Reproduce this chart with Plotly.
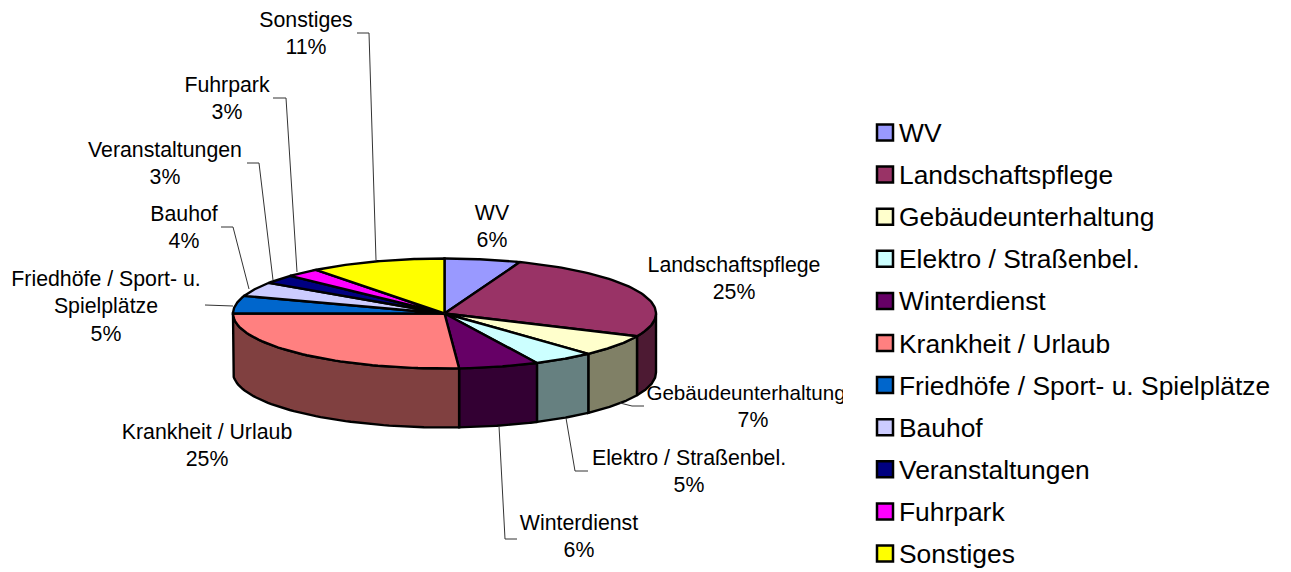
import numpy as np
import plotly.graph_objects as go

categories = ["WV", "Landschaftspflege", "Gebäudeunterhaltung", "Elektro / Straßenbel.", "Winterdienst",
              "Krankheit / Urlaub", "Friedhöfe / Sport- u. Spielplätze", "Bauhof", "Veranstaltungen",
              "Fuhrpark", "Sonstiges"]
values = [5.8, 26.0, 6.3, 4.7, 6.1, 26.1, 5.2, 4.2, 2.6, 2.6, 10.4]
percent_labels = ["6%", "25%", "7%", "5%", "6%", "25%", "5%", "4%", "3%", "3%", "11%"]
top_colors = ["#9999FF", "#993366", "#FFFFCC", "#CCFFFF", "#660066", "#FF8080",
              "#0066CC", "#CCCCFF", "#000080", "#FF00FF", "#FFFF00"]
side_colors = ["#4D4D80", "#4D1A33", "#808066", "#668080", "#330033", "#804040",
               "#003366", "#666680", "#000040", "#800080", "#808000"]

# label text lines: (x, y, text)
label_lines = [[(492, 212, "WV")], [(734, 264, "Landschaftspflege")], [(746, 392, "Gebäudeunterhaltung")],
               [(689, 457, "Elektro / Straßenbel.")], [(579, 522, "Winterdienst")],
               [(207, 431, "Krankheit / Urlaub")],
               [(106, 278, "Friedhöfe / Sport- u."), (106, 305, "Spielplätze")],
               [(184, 213, "Bauhof")], [(165, 149, "Veranstaltungen")], [(227, 84, "Fuhrpark")],
               [(306, 19, "Sonstiges")]]
pct_pos = [(492, 239), (734, 291), (753, 419), (689, 484), (579, 549), (207, 458), (106, 333),
           (184, 240), (165, 176), (227, 111), (306, 46)]
leaders = [[(357, 33), (369, 33), (376, 260)], [(273, 98), (286, 98), (297, 272)],
           [(247, 163), (259, 163), (273, 280)], [(221, 227), (233, 227), (249, 289)],
           [(205, 305), (233, 306)], [(620, 403), (632, 406), (644, 406)],
           [(588, 471), (575, 471), (566, 418)], [(499, 426), (505, 539), (517, 539)]]

CX, CY, RX, RY, DEPTH = 444.5, 313.5, 211.5, 55, 59
FONT = "Liberation Sans, Arial, sans-serif"
TEXT_DY = 3


def rim(a, b, n=60, dy=0.0):
    t = np.radians(np.linspace(a, b, n))
    return CX + RX * np.sin(t), CY - RY * np.cos(t) + dy


fig = go.Figure()
edges = np.concatenate([[0], np.cumsum(values)]) / sum(values) * 360

for i, cat in enumerate(categories):
    a, b = max(edges[i], 90), min(edges[i + 1], 270)
    if a < b:
        x1, y1 = rim(a, b)
        x2, y2 = rim(b, a, dy=DEPTH)
        fig.add_trace(go.Scatter(x=np.r_[x1, x2, x1[0]], y=np.r_[y1, y2, y1[0]], mode="lines", fill="toself",
                                 fillcolor=side_colors[i], line=dict(color="black", width=2.4),
                                 name=cat, hoverinfo="name", showlegend=False))

for i, cat in enumerate(categories):
    x1, y1 = rim(edges[i], edges[i + 1])
    fig.add_trace(go.Scatter(x=np.r_[CX, x1, CX], y=np.r_[CY, y1, CY], mode="lines", fill="toself",
                             fillcolor=top_colors[i], line=dict(color="black", width=2.4),
                             name=cat, hoverinfo="name", showlegend=False))

for pts in leaders:
    fig.add_trace(go.Scatter(x=[p[0] for p in pts], y=[p[1] for p in pts], mode="lines",
                             line=dict(color="#333333", width=1), hoverinfo="skip", showlegend=False))

lx = [p[0] for lines in label_lines for p in lines] + [p[0] for p in pct_pos]
ly = [p[1] + TEXT_DY for lines in label_lines for p in lines] + [p[1] + TEXT_DY for p in pct_pos]
lt = [p[2] for lines in label_lines for p in lines] + percent_labels
sizes = [20.6 if t == "Gebäudeunterhaltung" else 21.3 for t in lt]
fig.add_trace(go.Scatter(x=lx, y=ly, text=lt, mode="text", textposition="middle center", cliponaxis=True,
                         textfont=dict(family=FONT, size=sizes, color="black"), hoverinfo="skip", showlegend=False))

# legend column
STEP = 42.1
Y0 = 132.5
idx = np.arange(len(categories))
fig.add_trace(go.Scatter(x=[885] * len(idx), y=idx, mode="markers", xaxis="x2", yaxis="y2",
                         marker=dict(symbol="square", size=16, color=top_colors, line=dict(color="black", width=2.5)),
                         hoverinfo="skip", showlegend=False))
fig.add_trace(go.Scatter(x=[899] * len(idx), y=idx + TEXT_DY / STEP, text=categories, mode="text",
                         textposition="middle right", xaxis="x2", yaxis="y2",
                         textfont=dict(family=FONT, size=26.4, color="black"), hoverinfo="skip", showlegend=False))

hidden = dict(visible=False, showgrid=False, zeroline=False, fixedrange=True)
fig.update_layout(
    width=1291, height=572, margin=dict(l=0, r=0, t=0, b=0),
    paper_bgcolor="white", plot_bgcolor="white", showlegend=False,
    xaxis=dict(domain=[0, 843 / 1291], range=[0, 843], **hidden),
    yaxis=dict(range=[572, 0], **hidden),
    xaxis2=dict(domain=[843 / 1291, 1], range=[843, 1291], anchor="y2", **hidden),
    yaxis2=dict(range=[(572 - Y0) / STEP, -Y0 / STEP], anchor="x2", **hidden),
)
fig.write_html("out.html", post_script="document.body.style.margin='0';", config=dict(displayModeBar=False))
